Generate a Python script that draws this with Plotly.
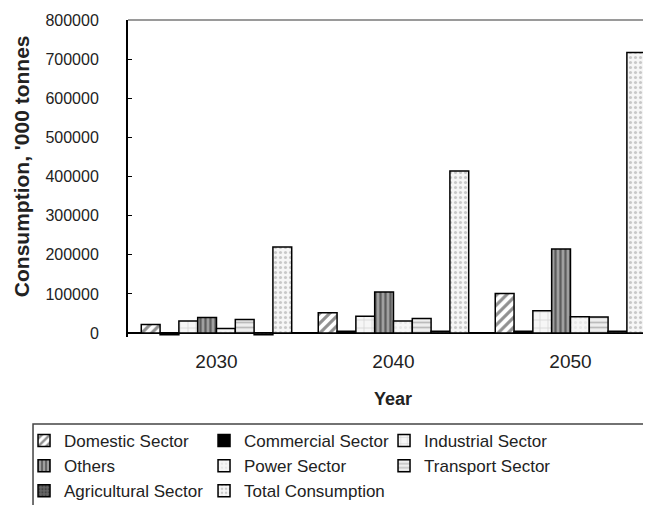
import plotly.graph_objects as go

years = ["2030", "2040", "2050"]
series_names = ["Domestic Sector", "Commercial Sector", "Industrial Sector", "Others",
                "Power Sector", "Transport Sector", "Agricultural Sector", "Total Consumption"]
domestic = [22000, 52000, 101000]
commercial = [-4000, 5000, 5000]
industrial = [31000, 43000, 57000]
others = [40000, 105000, 215000]
power = [12000, 31000, 42000]
transport = [35000, 37000, 41000]
agricultural = [-4000, 5000, 5000]
total = [220000, 414000, 717000]
y_ticks = [0, 100000, 200000, 300000, 400000, 500000, 600000, 700000, 800000]

values = [domestic, commercial, industrial, others, power, transport, agricultural, total]
styles = [
    dict(color="white", pattern=dict(shape="/", fgcolor="#222222", bgcolor="white", size=7, solidity=0.45)),
    dict(color="black"),
    dict(color="#f4f4f4", pattern=dict(shape="+", fgcolor="#a8a8a8", bgcolor="#f6f6f6", size=8, solidity=0.15)),
    dict(color="#888888", pattern=dict(shape="|", fgcolor="#1a1a1a", bgcolor="#a0a0a0", size=5, solidity=0.45)),
    dict(color="#f2f2f2", pattern=dict(shape=".", fgcolor="#d8d8d8", bgcolor="#f6f6f6", size=5, solidity=0.3)),
    dict(color="#dddddd", pattern=dict(shape="-", fgcolor="#888888", bgcolor="#eeeeee", size=5, solidity=0.35)),
    dict(color="#444444", pattern=dict(shape=".", fgcolor="#222222", bgcolor="#666666", size=4, solidity=0.4)),
    dict(color="#f2f2f2", pattern=dict(shape=".", fgcolor="#9a9a9a", bgcolor="#f6f6f6", size=5, solidity=0.3)),
]

FONT = "Liberation Sans, Arial, sans-serif"

fig = go.Figure()
for name, vals, st in zip(series_names, values, styles):
    marker = dict(color=st["color"], line=dict(color="black", width=1.5))
    if "pattern" in st:
        marker["pattern"] = st["pattern"]
    fig.add_trace(go.Bar(name=name, x=years, y=vals, marker=marker))

fig.update_layout(
    width=643, height=497,
    margin=dict(l=120, r=0, t=12, b=168, autoexpand=False),
    paper_bgcolor="white", plot_bgcolor="white",
    barmode="group", bargap=0.15, bargroupgap=0,
    font=dict(family=FONT, color="#222222"),
    showlegend=True,
    legend=dict(
        orientation="h", x=-0.1988, xanchor="left", y=-0.2714, yanchor="top",
        entrywidth=135, font=dict(size=17, family=FONT, color="#222222"),
        borderwidth=0, bgcolor="rgba(0,0,0,0)", tracegroupgap=0,
        itemwidth=30,
    ),
    xaxis=dict(
        type="category", range=[-0.5, 2.455], showgrid=False, showline=False,
        ticks="", tickfont=dict(size=19, family=FONT, color="#222222"),
        ticklabelstandoff=11,
    ),
    yaxis=dict(
        range=[-10000, 800000], tickvals=y_ticks, ticktext=[str(v) for v in y_ticks],
        showgrid=False, showline=True, linecolor="black", linewidth=2,
        ticks="inside", ticklen=4, tickcolor="black", tickwidth=1,
        tickfont=dict(size=16, family=FONT, color="#222222"),
        ticklabelstandoff=24,
        zeroline=True, zerolinecolor="black", zerolinewidth=2,
    ),
    shapes=[
        dict(type="line", xref="paper", yref="paper", x0=0, x1=1.05, y0=1, y1=1,
             line=dict(color="#9a9a9a", width=2)),
        dict(type="rect", xref="paper", yref="paper", x0=-0.1816, x1=1.2, y0=-0.2745, y1=-0.6,
             line=dict(color="#444444", width=1.5)),
    ],
    annotations=[
        dict(text="<b>Year</b>", xref="paper", yref="paper", x=0.5067, y=-0.1954,
             xanchor="center", yanchor="middle", showarrow=False,
             font=dict(size=18, family=FONT, color="#222222")),
        dict(text="<b>Consumption, '000 tonnes</b>", xref="paper", yref="paper", x=-0.2046, y=0.539,
             xanchor="center", yanchor="middle", showarrow=False, textangle=-90,
             font=dict(size=21, family=FONT, color="#222222")),
    ],
)

fig.write_html("out.html")
